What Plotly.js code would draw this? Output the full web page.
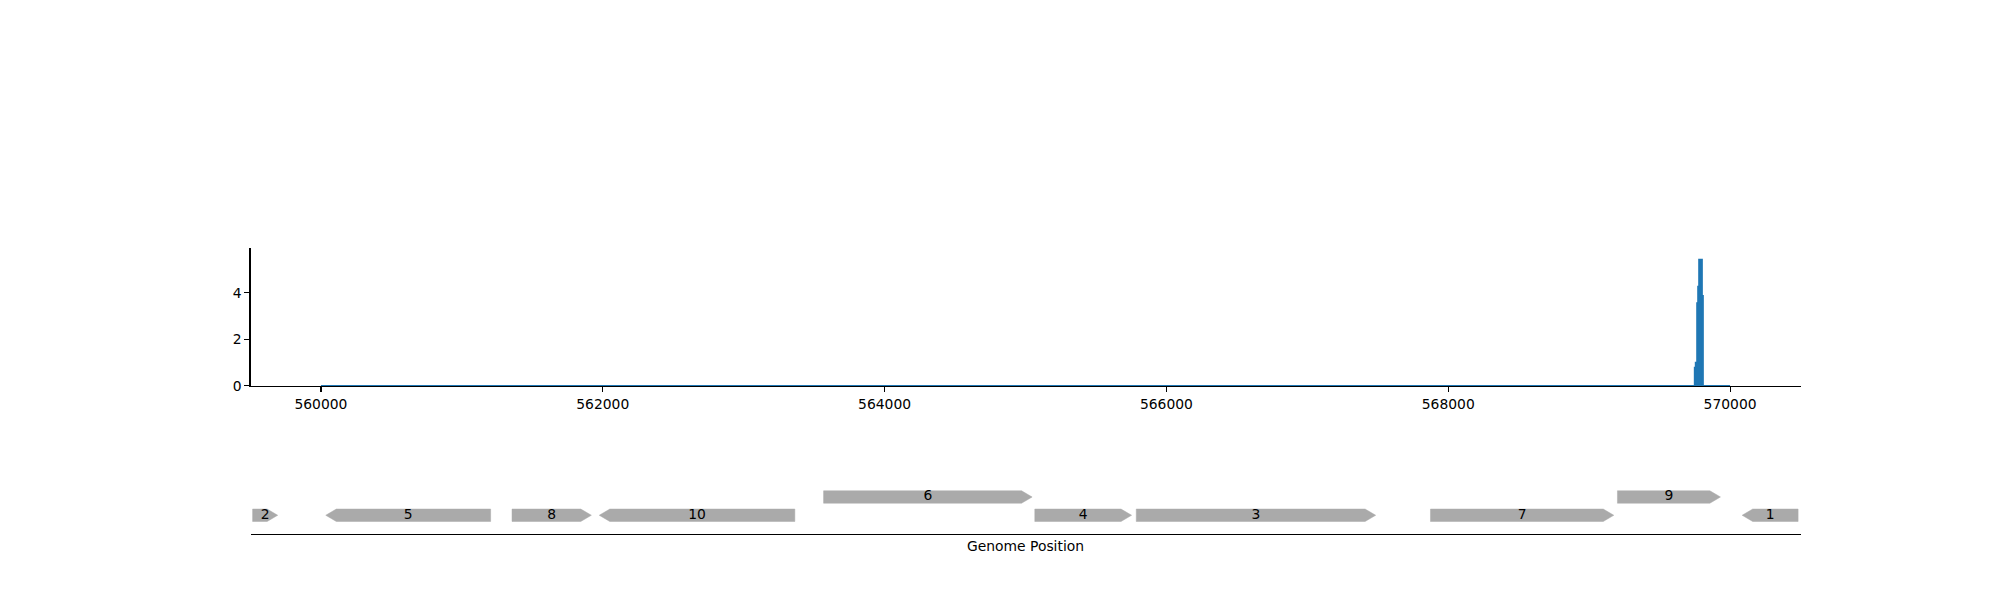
<!DOCTYPE html>
<html>
<head>
<meta charset="utf-8">
<script src="https://cdn.plot.ly/plotly-3.0.1.min.js"></script>
<style>html,body{margin:0;padding:0;background:#fff;}#chart{width:2000px;height:600px;}</style>
</head>
<body>
<div id="chart"></div>
<script>
// Coverage signal (genome position, value)
const covPos = [560000, 569750, 569757, 569767, 569774, 569781, 569800, 569807, 570000];
const covVal = [0, 0.78, 1.0, 3.55, 4.26, 5.42, 3.86, 0, 0];

// Gene features
const geneLabels = ['2', '5', '8', '10', '6', '4', '3', '7', '9', '1'];
const geneStart  = [559515, 560034, 561356, 561975, 563567, 565066, 565786, 567874, 569201, 570086];
const geneEnd    = [559693, 561204, 561919, 563363, 565047, 565753, 567485, 569175, 569932, 570483];
const geneStrand = [1, -1, 1, -1, 1, 1, 1, 1, 1, -1];
const geneLevel  = [0, 0, 0, 0, 1, 0, 0, 0, 1, 0];

const xTicks = [560000, 562000, 564000, 566000, 568000, 570000];

const FONT = {family: 'DejaVu Sans, sans-serif', size: 13.89, color: '#000'};
const HEAD = 75;      // arrow head length (style)
const HALF = 0.34;    // half body height (style)

const traces = [];
traces.push({
  x: covPos, y: covVal, type: 'scatter', mode: 'lines',
  line: {color: '#1f77b4', width: 2, shape: 'hv'},
  fill: 'tozeroy', fillcolor: '#1f77b4',
  xaxis: 'x', yaxis: 'y', hoverinfo: 'skip', showlegend: false
});

for (let i = 0; i < geneLabels.length; i++) {
  const s = geneStart[i], e = geneEnd[i], l = geneLevel[i];
  const h = Math.min(HEAD, (e - s) * 0.6);
  let xs, ys;
  if (geneStrand[i] > 0) {
    xs = [s, e - h, e, e - h, s, s];
    ys = [l - HALF, l - HALF, l, l + HALF, l + HALF, l - HALF];
  } else {
    xs = [e, s + h, s, s + h, e, e];
    ys = [l - HALF, l - HALF, l, l + HALF, l + HALF, l - HALF];
  }
  traces.push({
    x: xs, y: ys, type: 'scatter', mode: 'lines', fill: 'toself',
    fillcolor: '#aaaaaa', line: {color: '#aaaaaa', width: 0.5},
    xaxis: 'x2', yaxis: 'y2', hoverinfo: 'skip', showlegend: false
  });
}
traces.push({
  x: geneStart.map((s, i) => (s + geneEnd[i]) / 2), y: geneLevel,
  text: geneLabels, type: 'scatter', mode: 'text', textposition: 'middle center',
  textfont: FONT, xaxis: 'x2', yaxis: 'y2', hoverinfo: 'skip', showlegend: false
});

const XDOM = [0.12525, 0.90025];
const XR = [559500, 570500];

const layout = {
  width: 2000, height: 600,
  margin: {l: 0, r: 0, t: 0, b: 0, pad: 0},
  paper_bgcolor: '#fff', plot_bgcolor: 'rgba(0,0,0,0)',
  font: FONT,
  showlegend: false,
  xaxis: {
    domain: XDOM, range: XR, anchor: 'y',
    showline: true, linecolor: '#000', linewidth: 1.1,
    ticks: 'outside', ticklen: 5, tickwidth: 1.1, tickcolor: '#000',
    tickvals: xTicks, ticktext: xTicks.map(String),
    showgrid: false, zeroline: false, tickfont: FONT
  },
  yaxis: {
    domain: [0.3568, 0.5862], range: [0, 5.91], anchor: 'x',
    showline: true, linecolor: '#000', linewidth: 1.1,
    ticks: 'outside', ticklen: 5, tickwidth: 1.1, tickcolor: '#000',
    tickvals: [0, 2, 4], ticktext: ['0', '2', '4'],
    showgrid: false, zeroline: false, tickfont: FONT
  },
  xaxis2: {
    domain: XDOM, range: XR, anchor: 'y2',
    showline: true, linecolor: '#000', linewidth: 1.1,
    ticks: '', showticklabels: false, showgrid: false, zeroline: false
  },
  yaxis2: {
    domain: [0.1108, 0.2021], range: [-1, 2], anchor: 'x2',
    visible: false, showgrid: false, zeroline: false
  },
  annotations: [{
    text: 'Genome Position', xref: 'paper', yref: 'paper',
    x: (XDOM[0] + XDOM[1]) / 2, y: 1 - 545.7 / 600,
    xanchor: 'center', yanchor: 'middle', showarrow: false, font: FONT
  }]
};

Plotly.newPlot('chart', traces, layout, {staticPlot: true, displayModeBar: false});
</script>
</body>
</html>
